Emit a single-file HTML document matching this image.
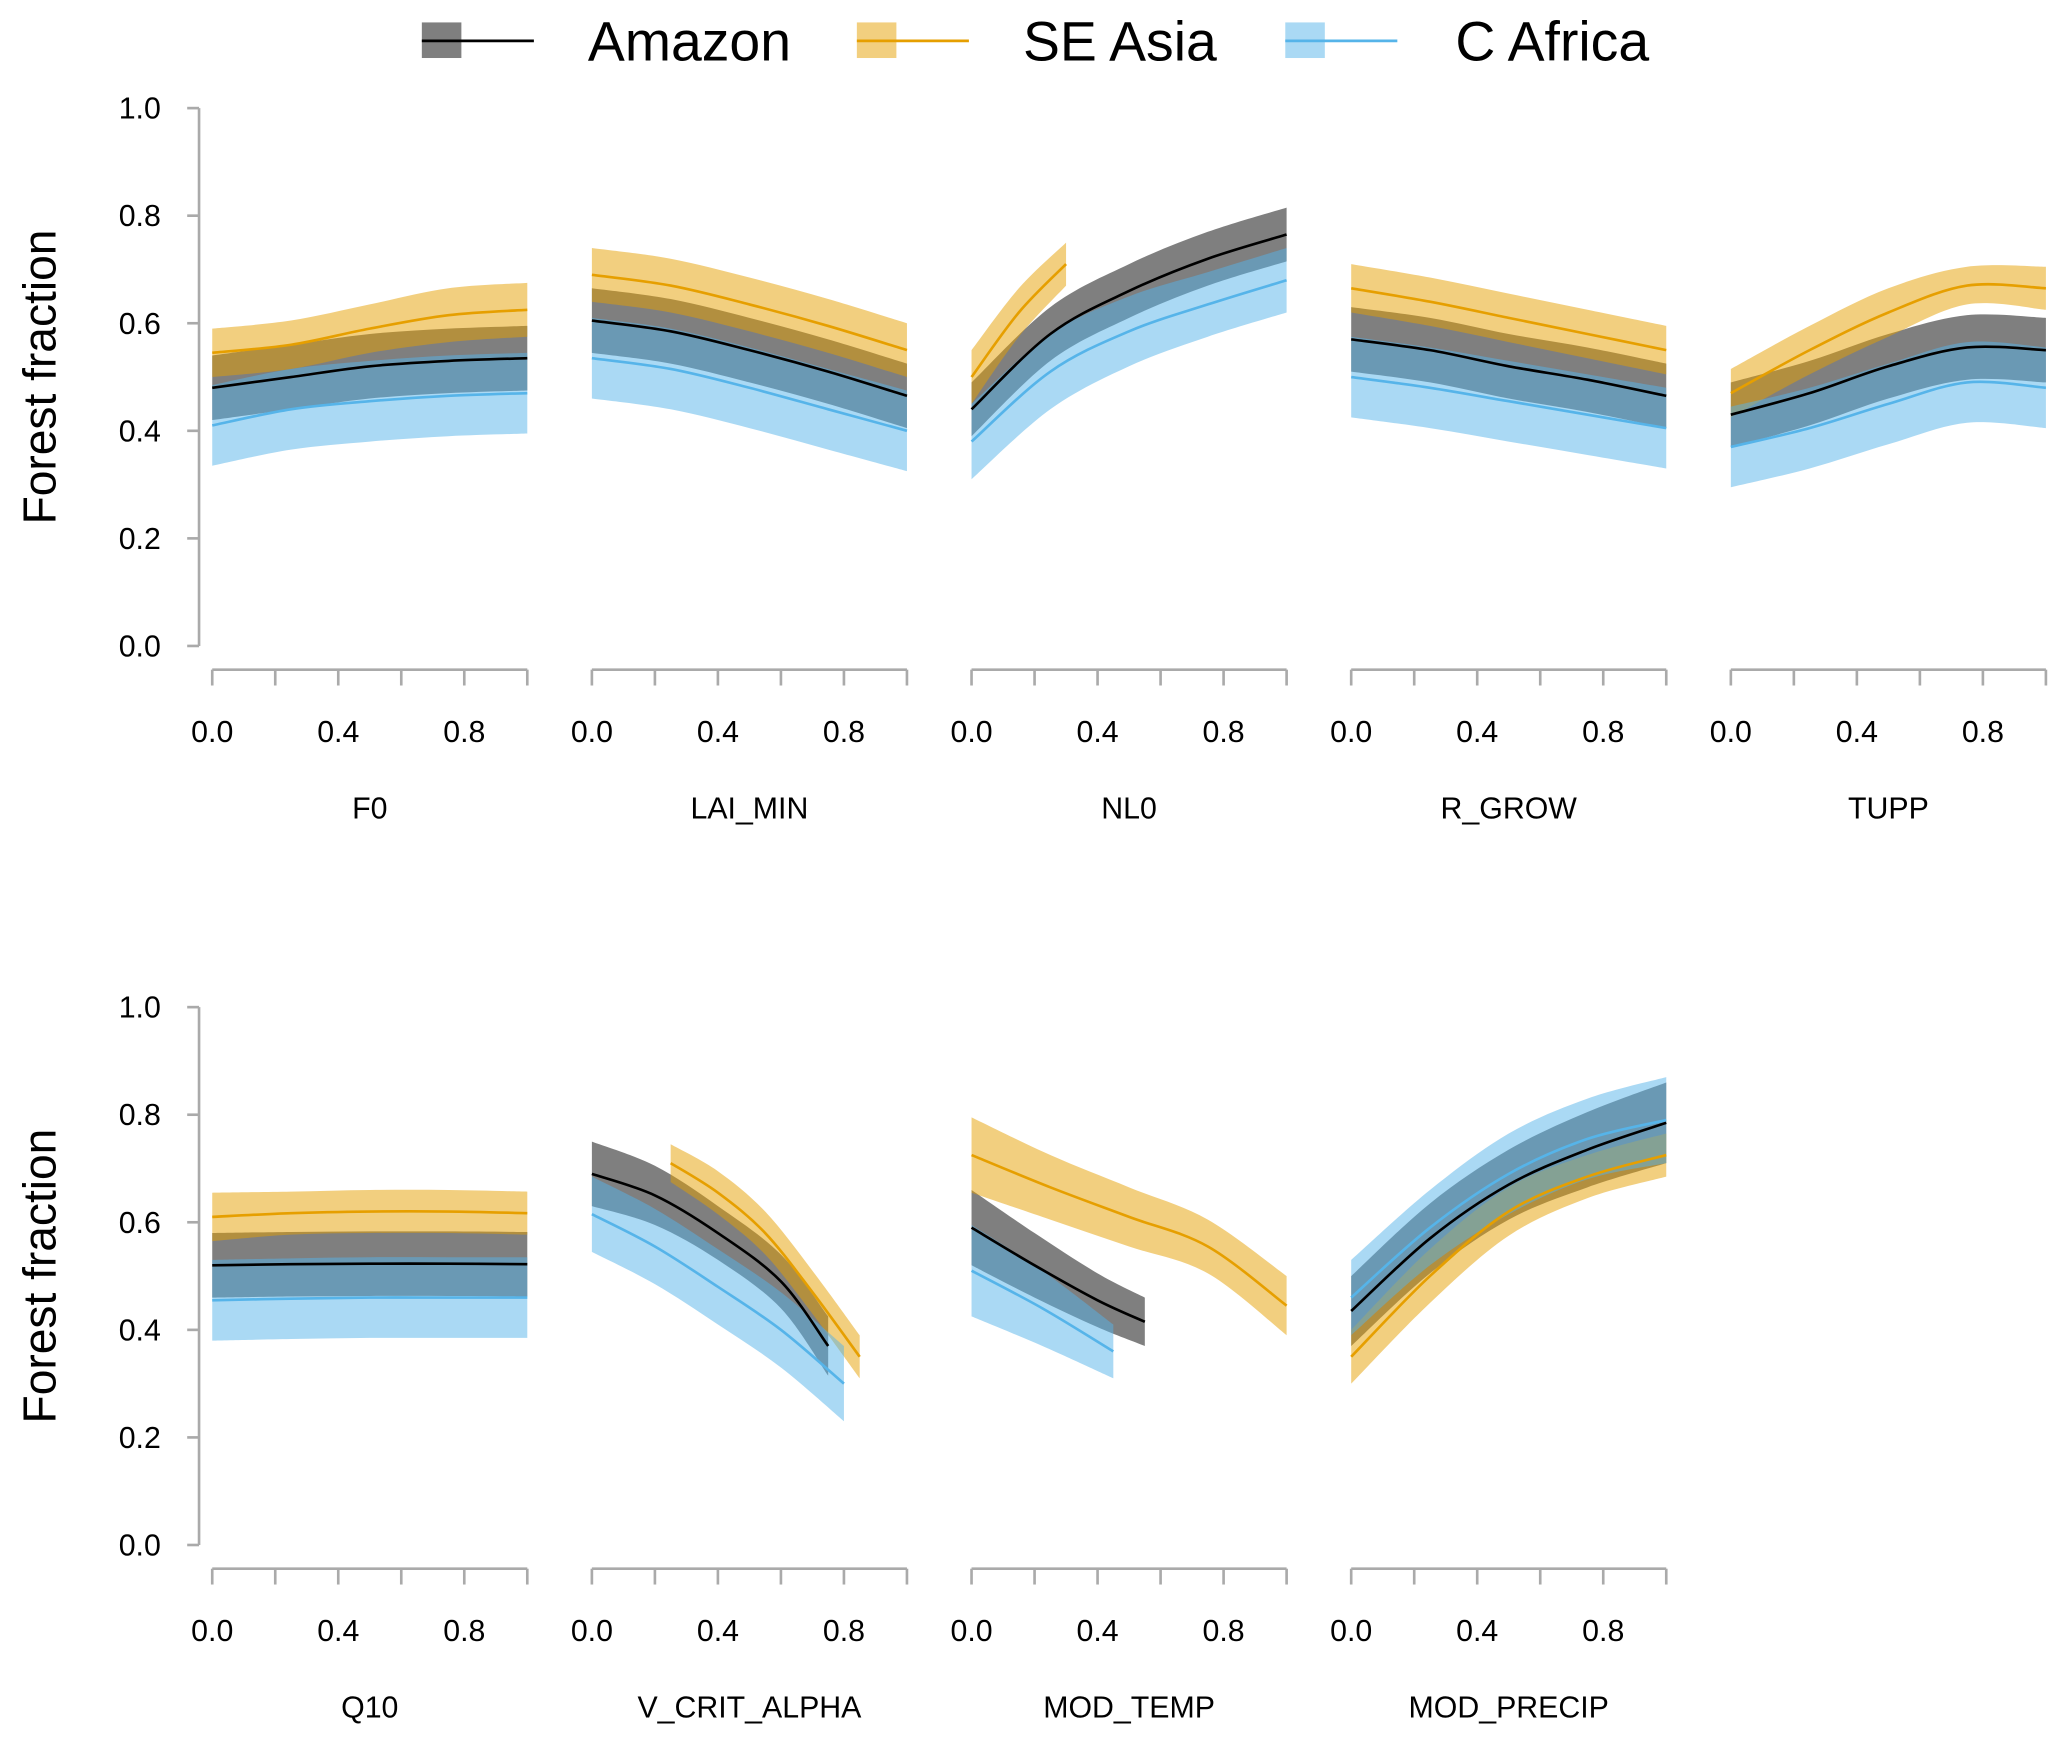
<!DOCTYPE html>
<html><head><meta charset="utf-8">
<style>html,body{margin:0;padding:0;background:#fff}svg{display:block}text{font-family:"Liberation Sans",sans-serif}</style>
</head><body>
<svg id="chart" width="2067" height="1743" viewBox="0 0 1568 1322.2" xmlns="http://www.w3.org/2000/svg">
<g>
 <g>
  <rect x="320" y="17" width="30" height="27" fill="#000" fill-opacity="0.5"/><line x1="320" y1="31" x2="405" y2="31" stroke="#000" stroke-width="2"/>
  <text x="446" y="46" font-size="42">Amazon</text></g>
 <g>
  <rect x="650" y="17" width="30" height="27" fill="#E69F00" fill-opacity="0.5"/><line x1="650" y1="31" x2="735" y2="31" stroke="#E69F00" stroke-width="2"/>
  <text x="776" y="46" font-size="42">SE Asia</text></g>
 <g>
  <rect x="975" y="17" width="30" height="27" fill="#56B4E9" fill-opacity="0.5"/><line x1="975" y1="31" x2="1060" y2="31" stroke="#56B4E9" stroke-width="2"/>
  <text x="1104" y="46" font-size="42">C Africa</text></g>
</g>
</svg>
<script>
const panelNames=["F0","LAI_MIN","NL0","R_GROW","TUPP","Q10","V_CRIT_ALPHA","MOD_TEMP","MOD_PRECIP"];
const yTicks=[0,0.2,0.4,0.6,0.8,1.0];
const yTickLabels=["0.0","0.2","0.4","0.6","0.8","1.0"];
const xTicks=[0,0.2,0.4,0.6,0.8,1.0];
const xTickLabels=["0.0","","0.4","","0.8",""];
const seriesNames=["Amazon","SE Asia","C Africa"];
const amazonX=[[0,.25,.5,.75,1],[0,.25,.5,.75,1],[0,.25,.5,.75,1],[0,.25,.5,.75,1],[0,.25,.5,.75,1],[0,.25,.5,.75,1],[0,.2,.4,.6,.75],[0,.2,.4,.55],[0,.25,.5,.75,1]];
const amazonMean=[[.48,.5,.52,.53,.535],[.605,.585,.55,.51,.465],[.44,.58,.66,.72,.765],[.57,.55,.52,.495,.465],[.43,.47,.52,.555,.55],[.52,.522,.523,.523,.522],[.69,.65,.58,.49,.37],[.59,.52,.455,.415],[.435,.57,.67,.735,.785]];
const amazonHalf=[[.06,.06,.06,.06,.06],[.06,.06,.06,.06,.06],[.05,.05,.05,.05,.05],[.06,.06,.06,.06,.06],[.06,.06,.06,.06,.06],[.06,.06,.06,.06,.06],[.06,.055,.05,.05,.055],[.07,.06,.05,.045],[.065,.065,.065,.07,.075]];
const seasiaX=[[0,.25,.5,.75,1],[0,.25,.5,.75,1],[0,.15,.3],[0,.25,.5,.75,1],[0,.25,.5,.75,1],[0,.25,.5,.75,1],[.25,.4,.55,.7,.85],[0,.25,.5,.75,1],[0,.25,.5,.75,1]];
const seasiaMean=[[.545,.56,.59,.615,.625],[.69,.67,.635,.595,.55],[.5,.62,.71],[.665,.64,.61,.58,.55],[.47,.55,.62,.67,.665],[.61,.617,.62,.62,.617],[.71,.655,.58,.47,.35],[.725,.665,.61,.555,.445],[.35,.5,.62,.685,.725]];
const seasiaHalf=[[.045,.045,.045,.05,.05],[.05,.05,.05,.05,.05],[.05,.045,.04],[.045,.045,.045,.045,.045],[.045,.045,.045,.035,.04],[.045,.04,.04,.04,.04],[.035,.04,.04,.04,.04],[.07,.06,.055,.05,.055],[.05,.05,.045,.04,.04]];
const africaX=[[0,.25,.5,.75,1],[0,.25,.5,.75,1],[0,.25,.5,.75,1],[0,.25,.5,.75,1],[0,.25,.5,.75,1],[0,.25,.5,.75,1],[0,.2,.4,.6,.8],[0,.225,.45],[0,.25,.5,.75,1]];
const africaMean=[[.41,.44,.455,.465,.47],[.535,.515,.48,.44,.40],[.38,.51,.585,.635,.68],[.50,.48,.455,.43,.405],[.37,.405,.45,.49,.48],[.455,.458,.46,.46,.46],[.615,.555,.48,.40,.30],[.51,.44,.36],[.46,.59,.69,.755,.79]];
const africaHalf=[[.075,.075,.075,.075,.075],[.075,.075,.075,.075,.075],[.07,.07,.065,.06,.06],[.075,.075,.075,.075,.075],[.075,.075,.075,.075,.075],[.075,.075,.075,.075,.075],[.07,.07,.07,.07,.07],[.085,.07,.05],[.07,.07,.075,.075,.08]];
const colors=[["#000","#000"],["#E69F00","#E69F00"],["#56B4E9","#56B4E9"]];
const NS="http://www.w3.org/2000/svg";
const svg=document.getElementById("chart");
function mk(t,a,p){const e=document.createElementNS(NS,t);for(const k in a)e.setAttribute(k,a[k]);(p||svg).appendChild(e);return e;}
function panelPos(i){const row=i<5?0:1,col=i<5?i:i-5;return{x0:161+col*288,w:239,yb:row?1172:490,yt:row?764:82,row};}
function curve(pts){let d="";for(let i=0;i<pts.length-1;i++){const p0=pts[i-1]||pts[i],p1=pts[i],p2=pts[i+1],p3=pts[i+2]||p2;
 const c1=[p1[0]+(p2[0]-p0[0])/6,p1[1]+(p2[1]-p0[1])/6],c2=[p2[0]-(p3[0]-p1[0])/6,p2[1]-(p3[1]-p1[1])/6];
 d+=" C"+c1[0]+","+c1[1]+" "+c2[0]+","+c2[1]+" "+p2[0]+","+p2[1];}return d;}
for(const row of [0,1]){const p=panelPos(row?5:0);const ys=v=>p.yb-v*(p.yb-p.yt);
 const g=mk("g",{});
 
 
 mk("line",{x1:151,x2:151,y1:ys(0),y2:ys(1),stroke:"#aaa","stroke-width":2},g);
 yTicks.forEach((v,k)=>{mk("line",{x1:142,x2:151,y1:ys(v),y2:ys(v),stroke:"#aaa","stroke-width":2},g);
  const t=mk("text",{x:122,y:ys(v)+8,"font-size":23,"text-anchor":"end"},g);t.textContent=yTickLabels[k];});
 const t=mk("text",{x:0,y:0,"font-size":35,"text-anchor":"middle",transform:"translate(42,"+(row?968:286)+") rotate(-90)"},g);
 t.textContent="Forest fraction";
 
 }
const X=[amazonX,seasiaX,africaX],M=[amazonMean,seasiaMean,africaMean],H=[amazonHalf,seasiaHalf,africaHalf];
panelNames.forEach((nm,i)=>{const p=panelPos(i);const xs=v=>p.x0+v*p.w,ys=v=>p.yb-v*(p.yb-p.yt);
 const g=mk("g",{});
 
 
 const ay=p.yb+18;
 mk("line",{x1:xs(0),x2:xs(1),y1:ay,y2:ay,stroke:"#aaa","stroke-width":2},g);
 xTicks.forEach((v,k)=>{mk("line",{x1:xs(v),x2:xs(v),y1:ay,y2:ay+12,stroke:"#aaa","stroke-width":2},g);
  if(xTickLabels[k]){const t=mk("text",{x:xs(v),y:ay+55,"font-size":23,"text-anchor":"middle"},g);t.textContent=xTickLabels[k];}});
 const tn=mk("text",{x:xs(0.5),y:ay+113,"font-size":23,"text-anchor":"middle"},g);tn.textContent=nm;
 
 
 for(let s=0;s<3;s++){const xv=X[s][i],mv=M[s][i],hv=H[s][i];
  const up=xv.map((x,j)=>[xs(x),ys(mv[j]+hv[j])]),lo=xv.map((x,j)=>[xs(x),ys(mv[j]-hv[j])]).reverse();
  const band=mk("path",{d:"M"+up[0]+curve(up)+" L"+lo[0]+curve(lo)+"Z",fill:colors[s][0],"fill-opacity":0.5},g);
  
  }
 for(let s=0;s<3;s++){const xv=X[s][i],mv=M[s][i];const pts=xv.map((x,j)=>[xs(x),ys(mv[j])]);
  const ln=mk("path",{d:"M"+pts[0]+curve(pts),fill:"none",stroke:colors[s][1],"stroke-width":2},g);
  
  }
});
</script>
</body></html>
